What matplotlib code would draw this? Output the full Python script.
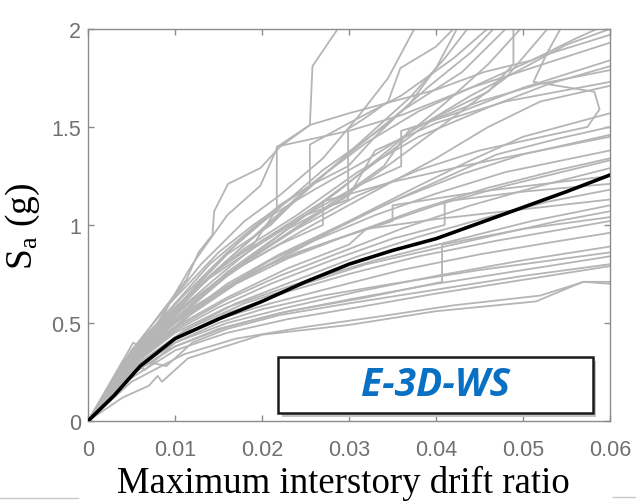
import matplotlib
matplotlib.use("Agg")
import matplotlib.pyplot as plt
from matplotlib.patches import Rectangle
from matplotlib.lines import Line2D

plt.rcParams['font.family'] = ['Liberation Sans', 'DejaVu Sans']
plt.rcParams['mathtext.fontset'] = 'custom'
plt.rcParams['mathtext.rm'] = 'Liberation Serif'
plt.rcParams['mathtext.it'] = 'Liberation Serif:italic'

# ---------------- data (drift ratio, Sa in g) ----------------
x_ticks = [0, 0.01, 0.02, 0.03, 0.04, 0.05, 0.06]
x_tick_labels = ["0", "0.01", "0.02", "0.03", "0.04", "0.05", "0.06"]
y_ticks = [0, 0.5, 1, 1.5, 2]
y_tick_labels = ["0", "0.5", "1", "1.5", "2"]

median_drift = [0, 0.003, 0.006, 0.008, 0.010, 0.015, 0.020, 0.025, 0.030, 0.035, 0.040, 0.045, 0.050, 0.055, 0.060]
median_sa = [0, 0.13, 0.28, 0.35, 0.42, 0.52, 0.61, 0.71, 0.80, 0.87, 0.93, 1.01, 1.09, 1.17, 1.255]

# record-wise IDA curves (drift, Sa)
c01 = [(0, 0), (.0035, .25), (.0058, .40), (.0085, .56), (.0113, .72), (.0127, .86), (.0143, .95), (.0145, 1.07), (.0161, 1.21), (.0198, 1.29), (.0221, 1.40), (.0255, 1.51), (.0258, 1.81), (.0287, 2.0)]
c02 = [(0, 0), (.005, .36), (.009, .58), (.013, .80), (.018, 1.02), (.022, 1.15), (.027, 1.34), (.031, 1.55), (.0345, 1.75), (.0375, 2.0)]
c03 = [(0, 0), (.005, .33), (.010, .57), (.015, .78), (.020, .92), (.025, 1.05), (.0299, 1.13), (.0299, 1.49), (.032, 1.55), (.0345, 1.63), (.0359, 1.80), (.040, 1.91), (.042, 2.0)]
c04 = [(0, 0), (.005, .32), (.010, .56), (.016, .82), (.022, 1.05), (.027, 1.25), (.032, 1.45), (.037, 1.65), (.041, 1.85), (.0436, 2.0)]
c05 = [(0, 0), (.006, .38), (.011, .62), (.016, .85), (.021, 1.00), (.0255, 1.20), (.0255, 1.41), (.030, 1.52), (.036, 1.66), (.042, 1.85), (.0459, 2.0)]
c06 = [(0, 0), (.005, .34), (.010, .55), (.015, .74), (.020, .92), (.027, 1.12), (.034, 1.35), (.040, 1.55), (.046, 1.68), (.0489, 1.82), (.0489, 2.0)]
c07 = [(0, 0), (.005, .30), (.010, .52), (.016, .76), (.022, .95), (.029, 1.18), (.035, 1.40), (.041, 1.62), (.046, 1.82), (.0497, 2.0)]
c08 = [(0, 0), (.005, .31), (.011, .56), (.017, .78), (.024, .98), (.031, 1.15), (.038, 1.28), (.045, 1.38), (.0574, 1.50), (.0588, 1.59), (.0582, 1.68), (.0512, 1.73), (.0528, 1.88), (.0543, 2.0)]
c09 = [(0, 0), (.005, .33), (.010, .54), (.015, .72), (.021, .90), (.028, 1.10), (.035, 1.32), (.042, 1.55), (.048, 1.75), (.0528, 2.0)]
c10 = [(0, 0), (.004, .28), (.008, .50), (.012, .80), (.016, 1.05), (.0198, 1.20), (.0218, 1.40), (.0255, 1.51), (.030, 1.57), (.040, 1.69), (.0455, 1.78), (.051, 1.84), (.056, 1.95), (.0585, 2.0)]
c11 = [(0, 0), (.005, .36), (.010, .58), (.015, .78), (.020, .98), (.026, 1.22), (.032, 1.42), (.038, 1.58), (.045, 1.72), (.052, 1.86), (.060, 1.97)]
c12 = [(0, 0), (.005, .34), (.010, .55), (.014, .74), (.019, .90), (.0217, 1.08), (.0217, 1.40), (.030, 1.48), (.036, 1.56), (.044, 1.70), (.053, 1.83), (.060, 1.93)]
c13 = [(0, 0), (.004, .30), (.009, .52), (.013, .70), (.018, .88), (.024, 1.05), (.031, 1.27), (.038, 1.45), (.046, 1.60), (.053, 1.72), (.060, 1.81)]
c14 = [(0, 0), (.005, .32), (.010, .52), (.016, .74), (.021, .90), (.027, 1.08), (.034, 1.30), (.037, 1.49), (.045, 1.63), (.052, 1.72), (.060, 1.79)]
c15 = [(0, 0), (.005, .30), (.011, .55), (.017, .78), (.023, .98), (.030, 1.15), (.033, 1.38), (.040, 1.52), (.048, 1.63), (.060, 1.73)]
c16 = [(0, 0), (.006, .36), (.012, .62), (.018, .80), (.025, .98), (.032, 1.15), (.040, 1.34), (.046, 1.50), (.052, 1.63), (.060, 1.71)]
c17 = [(0, 0), (.005, .31), (.010, .50), (.016, .70), (.022, .85), (.030, 1.02), (.038, 1.20), (.044, 1.33), (.050, 1.45), (.060, 1.57)]
c18 = [(0, 0), (.005, .30), (.011, .52), (.017, .70), (.024, .88), (.032, 1.06), (.040, 1.22), (.047, 1.36), (.054, 1.44), (.060, 1.50)]
c19 = [(0, 0), (.005, .30), (.010, .50), (.015, .65), (.020, .78), (.026, .92), (.033, 1.05), (.040, 1.16), (.048, 1.27), (.060, 1.38)]
c20 = [(0, 0), (.005, .28), (.010, .47), (.016, .62), (.022, .74), (.029, .86), (.036, .98), (.044, 1.10), (.052, 1.20), (.060, 1.29)]
c21 = [(0, 0), (.005, .29), (.010, .46), (.015, .58), (.021, .70), (.028, .82), (.035, .93), (.041, 1.00), (.041, 1.12), (.050, 1.17), (.060, 1.21)]
c22 = [(0, 0), (.005, .27), (.011, .46), (.017, .60), (.024, .72), (.031, .84), (.038, .94), (.046, 1.04), (.053, 1.12), (.060, 1.18)]
c23 = [(0, 0), (.005, .30), (.010, .48), (.016, .63), (.023, .78), (.030, .90), (.032, .98), (.040, 1.03), (.050, 1.08), (.060, 1.13)]
c24 = [(0, 0), (.006, .30), (.012, .48), (.018, .60), (.025, .70), (.032, .80), (.040, .88), (.048, .96), (.054, 1.02), (.060, 1.07)]
c25 = [(0, 0), (.005, .26), (.010, .42), (.016, .55), (.023, .66), (.030, .75), (.038, .84), (.047, .92), (.060, 1.02)]
c26 = [(0, 0), (.005, .27), (.010, .42), (.015, .52), (.021, .60), (.028, .68), (.036, .77), (.045, .85), (.053, .91), (.060, .96)]
c27 = [(0, 0), (.005, .25), (.010, .40), (.016, .50), (.023, .58), (.031, .66), (.040, .74), (.050, .82), (.060, .89)]
c28 = [(0, 0), (.005, .24), (.010, .38), (.015, .47), (.022, .55), (.030, .62), (.040, .70), (.050, .77), (.060, .84)]
c29 = [(0, 0), (.005, .22), (.010, .36), (.016, .45), (.023, .52), (.031, .58), (.040, .65), (.050, .72), (.060, .79)]
c30 = [(0, 0), (.005, .20), (.011, .34), (.017, .42), (.025, .48), (.033, .53), (.042, .59), (.052, .64), (.057, .71), (.060, .71)]
c31 = [(0, 0), (.004, .12), (.007, .18), (.008, .23), (.0085, .20), (.0115, .32), (.020, .44), (.030, .49), (.040, .56), (.0515, .61), (.0569, .71), (.060, .70)]
c32 = [(0, 0), (.005, .33), (.010, .55), (.016, .75), (.022, .90), (.027, 1.00), (.027, 1.12), (.035, 1.22), (.043, 1.30), (.052, 1.38), (.060, 1.45)]
c33 = [(0, 0), (.006, .35), (.012, .58), (.018, .74), (.024, .86), (.032, .98), (.040, 1.10), (.048, 1.20), (.060, 1.33)]
c34 = [(0, 0), (.005, .31), (.010, .51), (.015, .66), (.021, .80), (.028, .92), (.035, 1.02), (.035, 1.10), (.045, 1.17), (.060, 1.25)]
c35 = [(0, 0), (.005, .28), (.010, .45), (.016, .58), (.024, .70), (.033, .82), (.042, .92), (.051, 1.02), (.060, 1.10)]
c36 = [(0, 0), (.005, .24), (.010, .38), (.016, .48), (.023, .56), (.032, .63), (.0407, .71), (.0407, .90), (.050, .98), (.060, 1.04)]
c37 = [(0, 0), (.0052, .40), (.0065, .36), (.0094, .60), (.012, .72), (.015, .86), (.019, 1.00), (.0255, 1.20), (.031, 1.40), (.036, 1.58), (.043, 1.78), (.048, 2.0)]
c38 = [(0, 0), (.004, .22), (.0055, .30), (.0065, .26), (.010, .40), (.015, .50), (.020, .57), (.027, .64), (.035, .70), (.045, .77), (.055, .83), (.060, .86)]
c39 = [(0, 0), (.005, .35), (.010, .60), (.014, .80), (.018, .95), (.022, 1.10), (.0255, 1.20), (.0299, 1.30), (.033, 1.45), (.037, 1.62), (.040, 1.80), (.0424, 2.0)]
c40 = [(0, 0), (.005, .33), (.009, .52), (.013, .72), (.017, .90), (.020, 1.02), (.026, 1.18), (.032, 1.33), (.038, 1.50), (.044, 1.66), (.050, 1.80), (.055, 1.92), (.060, 2.0)]
c41 = [(0, 0), (.005, .36), (.011, .64), (.016, .86), (.0218, 1.08), (.027, 1.28), (.034, 1.50), (.039, 1.70), (.044, 1.88), (.0466, 2.0)]
c42 = [(0, 0), (.0045, .31), (.009, .53), (.014, .73), (.019, .88), (.025, 1.05), (.031, 1.20), (.036, 1.30), (.036, 1.48), (.043, 1.58), (.050, 1.70), (.060, 1.84)]
c43 = [(0, 0), (.005, .30), (.010, .50), (.015, .66), (.021, .82), (.028, .97), (.035, 1.12), (.043, 1.26), (.050, 1.36), (.060, 1.46)]
c44 = [(0, 0), (.006, .33), (.012, .55), (.017, .70), (.023, .83), (.030, .95), (.038, 1.08), (.046, 1.19), (.054, 1.28), (.060, 1.34)]
c45 = [(0, 0), (.004, .20), (.007, .30), (.009, .28), (.012, .40), (.016, .47), (.022, .54), (.030, .60), (.040, .67), (.050, .74), (.060, .80)]

gray_curves = [c01, c02, c03, c04, c05, c06, c07, c08, c09, c10, c11, c12, c13,
               c14, c15, c16, c17, c18, c19, c20, c21, c22, c23, c24, c25, c26,
               c27, c28, c29, c30, c31, c32, c33, c34, c35, c36, c37, c38, c39,
               c40, c41, c42, c43, c44, c45]

legend_text = "E-3D-WS"

# ---------------- figure ----------------
fig = plt.figure(figsize=(6.36, 5.02), dpi=100)
ax = fig.add_axes([0.1384, 0.1594, 0.8207, 0.7809])

for c in gray_curves:
    xs = [p[0] for p in c]
    ys = [p[1] for p in c]
    ax.plot(xs, ys, color='#b5b5b5', lw=1.3, zorder=2)

ax.plot(median_drift, median_sa, color='black', lw=2.6, zorder=3)

ax.set_xlim(0, 0.06)
ax.set_ylim(0, 2)
ax.set_xticks(x_ticks)
ax.set_xticklabels(x_tick_labels)
ax.set_yticks(y_ticks)
ax.set_yticklabels(y_tick_labels)

for s in ax.spines.values():
    s.set_color('#8c8c8c')
    s.set_linewidth(1.0)
ax.tick_params(direction='in', length=4, width=1.0, color='#8c8c8c',
               top=True, right=True, labelsize=15.5, labelcolor='#707070')
ax.tick_params(axis='x', pad=13)
ax.tick_params(axis='y', pad=5)

ax.set_xlabel("Maximum interstory drift ratio", family='Liberation Serif',
              fontsize=26.5, color='black')
ax.xaxis.set_label_coords(0.49, -0.113)
ax.set_ylabel(r"S$_\mathrm{a}$ (g)", family='Liberation Serif', fontsize=27, color='black')
ax.yaxis.set_label_coords(-0.088, 0.5)

# label box with shadow
bx0, by0, bw, bh = 0.364, 0.0204, 0.603, 0.143
shadow = Rectangle((bx0 + 0.007, by0 - 0.011), bw, bh, transform=ax.transAxes,
                   facecolor='#c4c4c4', edgecolor='none', zorder=4, clip_on=False)
ax.add_patch(shadow)
box = Rectangle((bx0, by0), bw, bh, transform=ax.transAxes,
                facecolor='white', edgecolor='#1a1a1a', lw=1.8, zorder=5, clip_on=False)
ax.add_patch(box)
ax.text(bx0 + bw / 2, by0 + bh / 2, legend_text, transform=ax.transAxes,
        ha='center', va='center', fontsize=28, color='#0a70c4',
        family='Open Sans', fontweight='bold', fontstyle='italic', zorder=6)

# crop artefacts at the bottom edge
fig.add_artist(Line2D([0, 0.123], [0.006, 0.006], color='#c8c8c8', lw=1.0))
fig.add_artist(Line2D([0.964, 1.0], [0.008, 0.008], color='#c8c8c8', lw=1.0))

fig.savefig("out.png", dpi=100)
